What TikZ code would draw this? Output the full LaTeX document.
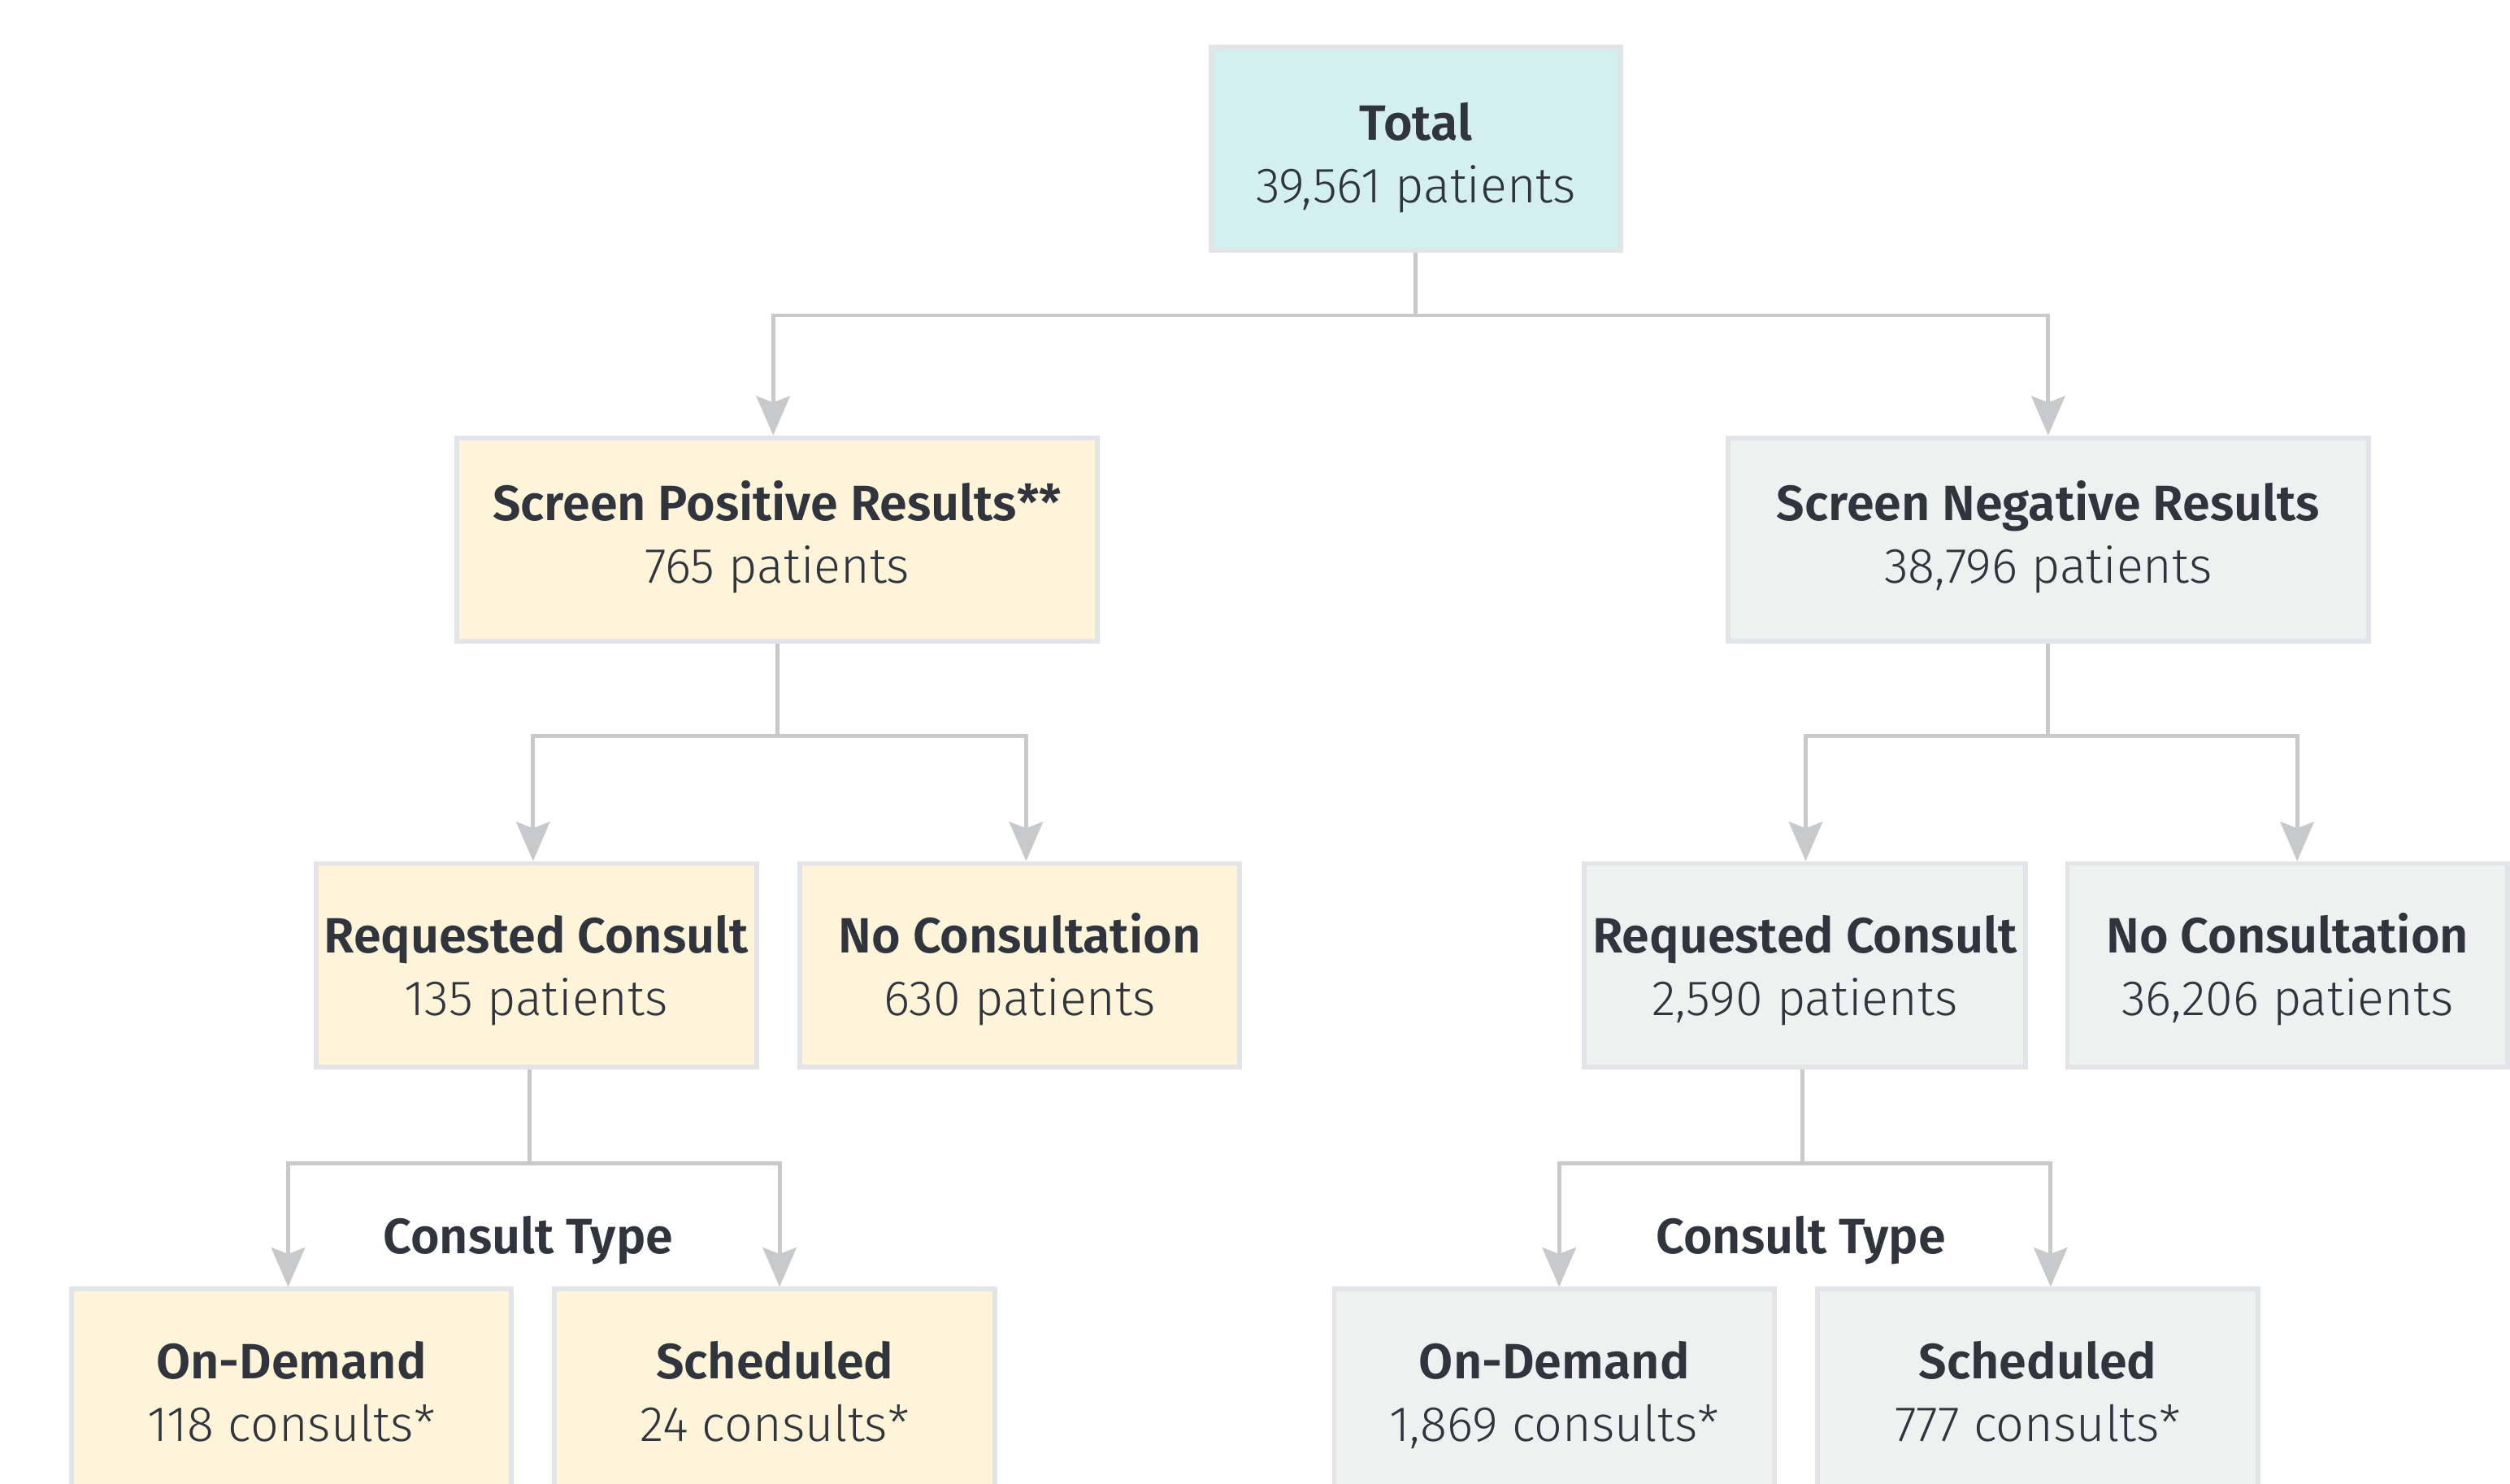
\documentclass[tikz,border=0pt]{standalone}
\usepackage{fontspec}
\setmainfont{Fira Sans}[UprightFont={* Light}, BoldFont={* SemiBold}]
\usetikzlibrary{arrows.meta}
\definecolor{linec}{HTML}{C8C9CB}
\definecolor{bordc}{HTML}{E3E4E7}
\definecolor{creamf}{HTML}{FDF4D9}
\definecolor{grayf}{HTML}{EFF0F0}
\definecolor{cyanf}{HTML}{D3EFEF}
\definecolor{txtc}{HTML}{30343D}
\newcommand\bxt[3][0pt]{\textbf{#2}\rule{0pt}{\dimexpr0.7\baselineskip+#1\relax}\\#3\strut}
\tikzset{
  box/.style={draw=bordc, line width=3pt, minimum height=127pt, inner sep=0pt,
    align=center, text=txtc, font=\fontsize{31}{39}\selectfont},
  wbox/.style={box, minimum width=#1},
  cream/.style={fill=creamf},
  grey/.style={fill=grayf},
  conn/.style={draw=linec, line width=2.5pt},
  arr/.style={conn, -{Stealth[length=24.5pt, width=21pt, inset=4pt]}},
  lbl/.style={text=txtc, font=\fontsize{31}{39}\selectfont\bfseries, inner sep=0pt}
}
\begin{document}
\begin{tikzpicture}[x=1pt,y=1pt]
\useasboundingbox (0,0) rectangle (1568,-927);
\clip (0,0) rectangle (1568,-927);
\fill[white] (0,0) rectangle (1568,-927);
% nodes
\node[wbox=256pt, fill=cyanf] (total) at (884.5,-93) {\bxt[13pt]{Total}{39,561 patients}};
\node[wbox=400pt, cream] (sp) at (485.5,-337) {\bxt{Screen Positive Results**}{765 patients}};
\node[wbox=400pt, grey] (sn) at (1279.5,-337) {\bxt{Screen Negative Results}{38,796 patients}};
\node[wbox=275pt, cream] (rcl) at (335,-603) {\bxt[8pt]{Requested Consult}{135 patients}};
\node[wbox=275pt, cream] (ncl) at (637,-603) {\bxt[8pt]{No Consultation}{630 patients}};
\node[wbox=276pt, grey] (rcr) at (1127.5,-603) {\bxt[8pt]{Requested Consult}{2,590 patients}};
\node[wbox=275pt, grey] (ncr) at (1429,-603) {\bxt[8pt]{No Consultation}{36,206 patients}};
\node[wbox=275pt, cream] (odl) at (182,-869) {\bxt[8pt]{On-Demand}{118 consults*}};
\node[wbox=275pt, cream] (scl) at (484,-869) {\bxt[8pt]{Scheduled}{24 consults*}};
\node[wbox=275pt, grey] (odr) at (971,-869) {\bxt[8pt]{On-Demand}{1,869 consults*}};
\node[wbox=275pt, grey] (scr) at (1273,-869) {\bxt[8pt]{Scheduled}{777 consults*}};
\node[lbl] (ctl) at (330,-775) {Consult Type};
\node[lbl] (ctr) at (1125,-775) {Consult Type};
% junctions
\coordinate (j0) at (884.5,-197);
\coordinate (j1) at (485.5,-460);
\coordinate (j2) at (1279.5,-460);
\coordinate (j3) at (331,-727);
\coordinate (j4) at (1126,-727);
% connectors
\draw[conn] (total.south) -- (j0);
\draw[arr] (j0) -| ([xshift=-2.5pt]sp.north);
\draw[arr] (j0) -| (sn.north);
\draw[conn] (sp.south) -- (j1);
\draw[arr] (j1) -| ([xshift=-2pt]rcl.north);
\draw[arr] (j1) -| ([xshift=4pt]ncl.north);
\draw[conn] (sn.south) -- (j2);
\draw[arr] (j2) -| ([xshift=0.5pt]rcr.north);
\draw[arr] (j2) -| ([xshift=6pt]ncr.north);
\draw[conn] (rcl.south -| j3) -- (j3);
\draw[arr] (j3) -| ([xshift=-2pt]odl.north);
\draw[arr] (j3) -| ([xshift=3pt]scl.north);
\draw[conn] (rcr.south -| j4) -- (j4);
\draw[arr] (j4) -| ([xshift=3pt]odr.north);
\draw[arr] (j4) -| ([xshift=8pt]scr.north);
\end{tikzpicture}
\end{document}
